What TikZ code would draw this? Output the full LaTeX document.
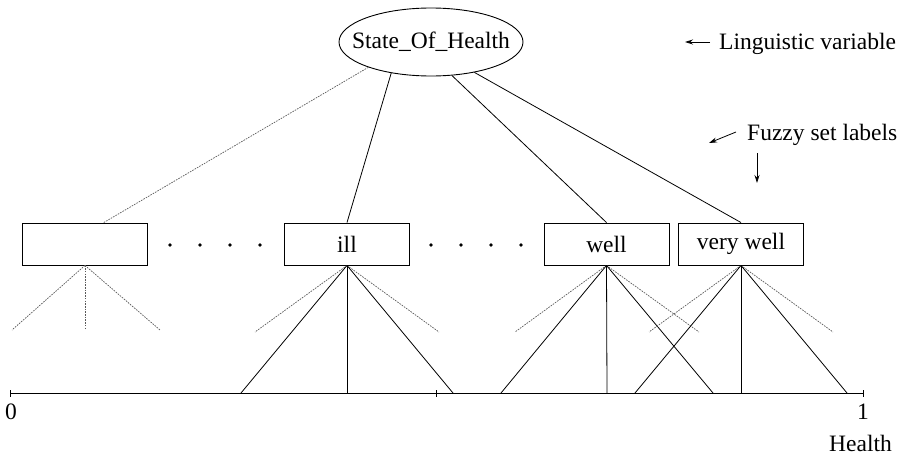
\documentclass[tikz,border=0pt]{standalone}
\usepackage{fontspec}
\setmainfont{Liberation Serif}
\usetikzlibrary{shapes.geometric,arrows.meta}
\begin{document}
\begin{tikzpicture}[x=1pt,y=-1pt,
  lbl/.style={font=\fontsize{23.5}{28}\selectfont, inner sep=0pt},
  setbox/.style={draw, line width=0.9pt, minimum width=125pt, minimum height=42pt,
    inner sep=0pt, font=\fontsize{23.5}{28}\selectfont},
  solidline/.style={line width=0.8pt},
  dotline/.style={gray!70!black, line width=0.7pt, dash pattern=on 1.6pt off 1.1pt},
  pt/.style={circle, fill, inner sep=0pt, minimum size=3.6pt},
  arr/.style={-{Stealth[length=8pt,width=5pt]}, line width=0.8pt}]
\useasboundingbox (0,0) rectangle (905,458);

% linguistic variable
\node[ellipse, draw, line width=0.9pt, minimum width=184pt, minimum height=68pt,
  inner xsep=-14pt, inner ysep=0pt, font=\fontsize{23.5}{28}\selectfont]
  (var) at (431,42) {State\_Of\_Health};

% fuzzy set label boxes
\node[setbox] (s0) at (85,244) {};
\node[setbox] (ill) at (347,244) {ill};
\node[setbox] (well) at (606.5,244) {well};
\node[setbox] (vwell) at (741,244) {very well};

% ellipsis dots between boxes
\foreach \x [count=\i] in {170,200,230,260,431,461,491,521}
  \node[pt] (d\i) at (\x,245) {};

% edges from the variable to its labels
\coordinate (s0top) at (103,223);
\draw[dotline] (var.202.4) -- (s0top);
\draw[solidline] (var.218.2) -- (ill.north);
\draw[solidline] (var.302.5) -- (well.north);
\draw[solidline] (var.325.7) -- (vwell.north);

% axis
\coordinate (a0) at (10,393);
\coordinate (am) at (436.5,393);
\coordinate (a1) at (863,393);
\draw[line width=0.9pt] (a0) -- (a1);
\foreach \p in {a0,am,a1}
  \draw[line width=0.8pt] ([yshift=-3.5pt]\p) -- ([yshift=3.5pt]\p);
\node[lbl, anchor=base] (zero) at (11,419) {0};
\node[lbl, anchor=base] (one) at (863,419) {1};
\node[lbl, anchor=base east] (health) at (892,451) {Health};

% membership functions: first (unnamed) set
\coordinate (s0l) at (12,330);
\coordinate (s0m) at (85,330);
\coordinate (s0r) at (160,330);
\foreach \c in {s0l,s0m,s0r} \draw[dotline] (s0.south) -- (\c);

% membership functions of the named sets
\foreach \b/\cx in {ill/347, well/607, vwell/741} {
  \coordinate (\b dl) at (\cx-92,332);
  \coordinate (\b dr) at (\cx+92,332);
  \coordinate (\b sl) at (\cx-106,393);
  \coordinate (\b sm) at (\cx,393);
  \coordinate (\b sr) at (\cx+106,393);
  \draw[dotline] (\b.south) -- (\b dl);
  \draw[dotline] (\b.south) -- (\b dr);
  \draw[solidline] (\b.south) -- (\b sl);
  \draw[solidline] (\b.south) -- (\b sm);
  \draw[solidline] (\b.south) -- (\b sr);
}

% annotations
\node[lbl, anchor=base west] (lingtxt) at (719,49) {Linguistic variable};
\coordinate (lingarr) at (685,42);
\draw[arr] (lingtxt.west |- 0,42) ++(-9,0) coordinate (lingstart) -- (lingarr);

\node[lbl, anchor=base west] (fuzzytxt) at (747,140) {Fuzzy set labels};
\coordinate (fdiag) at (709,143);
\coordinate (fdown) at (757,183);
\draw[arr] (736,132) -- (fdiag);
\draw[arr] (757,153) -- (fdown);
\end{tikzpicture}
\end{document}
